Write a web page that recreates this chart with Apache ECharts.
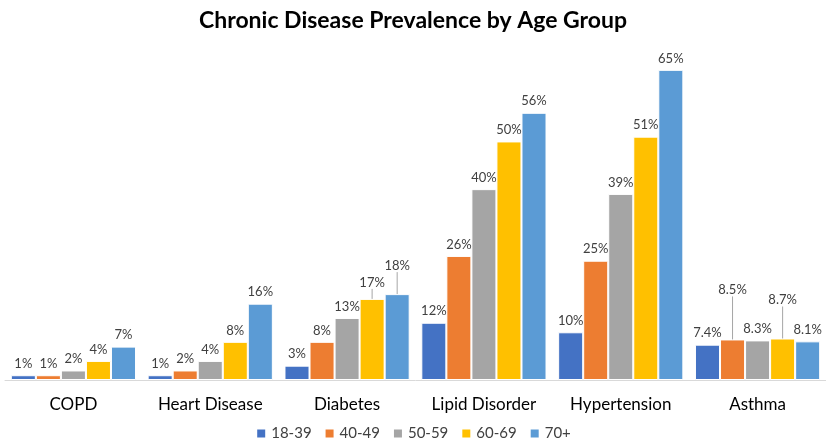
<!DOCTYPE html>
<html>
<head>
<meta charset="utf-8">
<script src="https://cdn.jsdelivr.net/npm/echarts@6/dist/echarts.min.js"></script>
<style>
  html, body { margin: 0; padding: 0; background: #fff; }
  #chart { width: 826px; height: 446px; }
</style>
</head>
<body>
<div id="chart"></div>
<script>
// Chronic disease prevalence (%) by age group
const categories = ['COPD', 'Heart Disease', 'Diabetes', 'Lipid Disorder', 'Hypertension', 'Asthma'];
const ageGroups = ['18-39', '40-49', '50-59', '60-69', '70+'];
const age18to39 = [1, 1, 3, 12, 10, 7.4];
const age40to49 = [1, 2, 8, 26, 25, 8.5];
const age50to59 = [2, 4, 13, 40, 39, 8.3];
const age60to69 = [4, 8, 17, 50, 51, 8.7];
const age70plus = [7, 16, 18, 56, 65, 8.1];
const seriesValues = [age18to39, age40to49, age50to59, age60to69, age70plus];
const colors = ['#4472C4', '#ED7D31', '#A5A5A5', '#FFC000', '#5B9BD5'];

// labels lifted above crowded neighbours, keyed "series-category" -> pixel lift
const labelLift = { '3-2': 5, '4-2': 17, '1-5': 38, '3-5': 27 };

const fmt = v => (Number.isInteger(v) ? v : v.toFixed(1)) + '%';

const chart = echarts.init(document.getElementById('chart'), null, { renderer: 'canvas' });

chart.setOption({
  animation: false,
  color: colors,
  title: {
    text: 'Chronic Disease Prevalence by Age Group',
    left: 'center',
    top: 4,
    textStyle: { fontFamily: 'Lato', fontWeight: 'bold', fontSize: 23, color: '#000' }
  },
  legend: {
    bottom: 0,
    left: 'center',
    itemWidth: 10,
    itemHeight: 10,
    itemGap: 12,
    icon: 'rect',
    textStyle: { fontFamily: 'Lato', fontSize: 15, color: '#404040' },
    data: ageGroups
  },
  grid: { left: 5, width: 824, top: 46, bottom: 66, containLabel: false },
  xAxis: {
    type: 'category',
    data: categories,
    axisTick: { show: false },
    axisLine: { lineStyle: { color: '#D9D9D9', width: 1 } },
    axisLabel: { fontFamily: 'Lato', fontSize: 17, color: '#000', margin: 16 }
  },
  yAxis: {
    type: 'value',
    min: 0,
    max: 70,
    show: false,
    splitLine: { show: false }
  },
  series: seriesValues.map((vals, si) => ({
    name: ageGroups[si],
    type: 'bar',
    barGap: '0%',
    barCategoryGap: '8.5%',
    data: vals.map((v, ci) => ({
      value: v,
      labelLine: { show: !!labelLift[si + '-' + ci] }
    })),
    itemStyle: { borderColor: '#fff', borderWidth: 1 },
    label: {
      show: true,
      position: 'top',
      distance: 5,
      fontFamily: 'Lato',
      fontSize: 13,
      color: '#404040',
      formatter: p => fmt(p.value)
    },
    labelLine: { show: false, lineStyle: { color: '#A6A6A6', width: 1 } },
    labelLayout: p => {
      const lift = labelLift[si + '-' + p.dataIndex];
      return lift ? { dy: -lift } : {};
    }
  }))
});
</script>
</body>
</html>
